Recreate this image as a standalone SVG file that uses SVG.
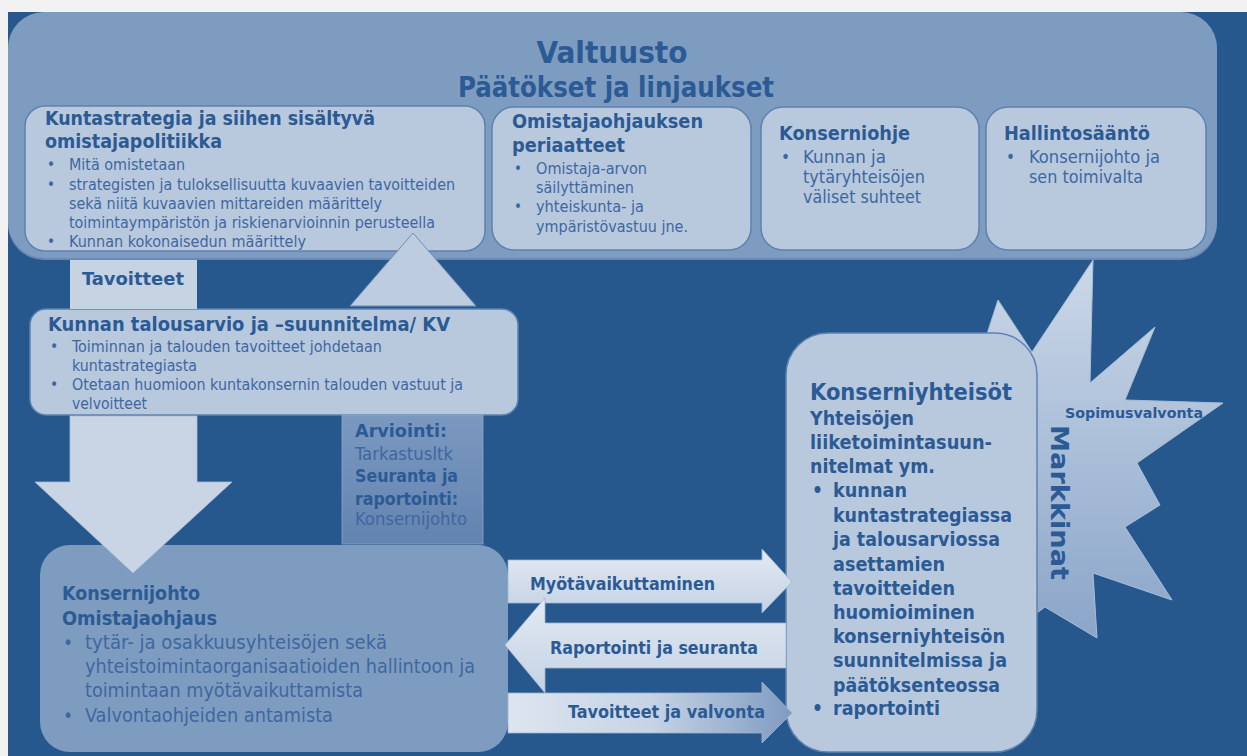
<svg xmlns="http://www.w3.org/2000/svg" width="1247" height="756" viewBox="0 0 1247 756">
<defs>
<style>
text{font-family:"DejaVu Sans Condensed","DejaVu Sans",sans-serif;fill:#3E67A1;}
.b{font-weight:bold;fill:#2B5A95;}
.w{font-family:"DejaVu Sans",sans-serif;}
.lb{fill:#B9C9DD;stroke:#5E82B0;stroke-width:1.5;}
.mb{fill:#7E9CC0;}
.s15{font-size:15px;}
.s17{font-size:17px;}
.s19{font-size:19px;}
.arr{stroke:#9FB4D0;stroke-width:0.8;}
</style>
<linearGradient id="gA" x1="0" y1="0" x2="0" y2="1">
<stop offset="0" stop-color="#E3EAF3"/><stop offset="1" stop-color="#C4D2E4"/>
</linearGradient>
<linearGradient id="gA3" x1="0" y1="0" x2="1" y2="0">
<stop offset="0" stop-color="#DDE5EF"/><stop offset="0.5" stop-color="#C7D4E5"/><stop offset="1" stop-color="#7E9BC1"/>
</linearGradient>
<linearGradient id="gStar" x1="0" y1="0" x2="0" y2="1">
<stop offset="0" stop-color="#CBD8E8"/><stop offset="1" stop-color="#8AA5C9"/>
</linearGradient>
<linearGradient id="gArv" x1="0" y1="0" x2="0" y2="1">
<stop offset="0" stop-color="#7B99C0"/><stop offset="1" stop-color="#6383B0"/>
</linearGradient>
</defs>

<rect x="0" y="0" width="1247" height="756" fill="#F2F2F2"/>
<rect x="8" y="12" width="1239" height="744" fill="#26588E"/>

<g id="valtuusto">
<rect x="8" y="14" width="1209" height="246" rx="36" fill="#6A8AB4"/>
<rect class="mb" x="8" y="12" width="1209" height="246" rx="36"/>
<text class="b" x="612" y="63" font-size="31" text-anchor="middle" textLength="151" lengthAdjust="spacingAndGlyphs">Valtuusto</text>
<text class="b" x="616" y="97" font-size="28" text-anchor="middle" textLength="316" lengthAdjust="spacingAndGlyphs">Päätökset ja linjaukset</text>
</g>

<g id="kuntastrategia">
<rect class="lb" x="25" y="106" width="460" height="145" rx="20"/>
<text class="b s19" x="45" y="125" textLength="330" lengthAdjust="spacingAndGlyphs">Kuntastrategia ja siihen sisältyvä</text>
<text class="b s19" x="45" y="148" textLength="177" lengthAdjust="spacingAndGlyphs">omistajapolitiikka</text>
<text class="s15" x="47" y="170">•</text>
<text class="s15" x="47" y="190">•</text>
<text class="s15" x="47" y="247">•</text>
<text class="s15" x="69" y="170" textLength="116" lengthAdjust="spacingAndGlyphs">Mitä omistetaan</text>
<text class="s15" x="69" y="190" textLength="386" lengthAdjust="spacingAndGlyphs">strategisten ja tuloksellisuutta kuvaavien tavoitteiden</text>
<text class="s15" x="69" y="209" textLength="313" lengthAdjust="spacingAndGlyphs">sekä niitä kuvaavien mittareiden määrittely</text>
<text class="s15" x="69" y="228" textLength="366" lengthAdjust="spacingAndGlyphs">toimintaympäristön ja riskienarvioinnin perusteella</text>
<text class="s15" x="69" y="247" textLength="237" lengthAdjust="spacingAndGlyphs">Kunnan kokonaisedun määrittely</text>
</g>

<g id="omistajaohjaus">
<rect class="lb" x="492" y="107" width="259" height="143" rx="22"/>
<text class="b s19" x="512" y="128" textLength="191" lengthAdjust="spacingAndGlyphs">Omistajaohjauksen</text>
<text class="b s19" x="512" y="152" textLength="113" lengthAdjust="spacingAndGlyphs">periaatteet</text>
<text class="s15" x="514" y="174">•</text>
<text class="s15" x="514" y="212">•</text>
<text class="s15" x="536" y="174" textLength="111" lengthAdjust="spacingAndGlyphs">Omistaja-arvon</text>
<text class="s15" x="536" y="193" textLength="98" lengthAdjust="spacingAndGlyphs">säilyttäminen</text>
<text class="s15" x="536" y="212" textLength="108" lengthAdjust="spacingAndGlyphs">yhteiskunta- ja</text>
<text class="s15" x="536" y="232" textLength="152" lengthAdjust="spacingAndGlyphs">ympäristövastuu jne.</text>
</g>

<g id="konserniohje">
<rect class="lb" x="761" y="107" width="218" height="143" rx="22"/>
<text class="b s19" x="779" y="140" textLength="131" lengthAdjust="spacingAndGlyphs">Konserniohje</text>
<text class="s17" x="781" y="163">•</text>
<text class="s17" x="803" y="163" textLength="83" lengthAdjust="spacingAndGlyphs">Kunnan ja</text>
<text class="s17" x="803" y="183" textLength="122" lengthAdjust="spacingAndGlyphs">tytäryhteisöjen</text>
<text class="s17" x="803" y="203" textLength="118" lengthAdjust="spacingAndGlyphs">väliset suhteet</text>
</g>

<g id="hallintosaanto">
<rect class="lb" x="986" y="107" width="220" height="143" rx="22"/>
<text class="b s19" x="1004" y="140" textLength="146" lengthAdjust="spacingAndGlyphs">Hallintosääntö</text>
<text class="s17" x="1006" y="163">•</text>
<text class="s17" x="1029" y="163" textLength="131" lengthAdjust="spacingAndGlyphs">Konsernijohto ja</text>
<text class="s17" x="1029" y="183" textLength="114" lengthAdjust="spacingAndGlyphs">sen toimivalta</text>
</g>

<g id="talousarvio">
<rect class="lb" x="30" y="309" width="488" height="106" rx="16"/>
<text class="b s19" x="48" y="331" textLength="402" lengthAdjust="spacingAndGlyphs">Kunnan talousarvio ja –suunnitelma/ KV</text>
<text font-size="15.5" x="50" y="352">•</text>
<text font-size="15.5" x="50" y="390">•</text>
<text font-size="15.5" x="72" y="352" textLength="310" lengthAdjust="spacingAndGlyphs">Toiminnan ja talouden tavoitteet johdetaan</text>
<text font-size="15.5" x="72" y="371" textLength="125" lengthAdjust="spacingAndGlyphs">kuntastrategiasta</text>
<text font-size="15.5" x="72" y="390" textLength="391" lengthAdjust="spacingAndGlyphs">Otetaan huomioon kuntakonsernin talouden vastuut ja</text>
<text font-size="15.5" x="72" y="409" textLength="75" lengthAdjust="spacingAndGlyphs">velvoitteet</text>
</g>

<g id="konsernijohto">
<rect class="mb" x="40" y="545" width="468" height="207" rx="30"/>
<text class="b s19" x="62" y="600" textLength="138" lengthAdjust="spacingAndGlyphs">Konsernijohto</text>
<text class="b s19" x="62" y="625" textLength="155" lengthAdjust="spacingAndGlyphs">Omistajaohjaus</text>
<text font-size="19" x="63" y="649">•</text>
<text font-size="19" x="63" y="722">•</text>
<text font-size="19" x="85" y="649" textLength="302" lengthAdjust="spacingAndGlyphs">tytär- ja osakkuusyhteisöjen sekä</text>
<text font-size="19" x="85" y="673" textLength="390" lengthAdjust="spacingAndGlyphs">yhteistoimintaorganisaatioiden hallintoon ja</text>
<text font-size="19" x="85" y="697" textLength="278" lengthAdjust="spacingAndGlyphs">toimintaan myötävaikuttamista</text>
<text font-size="19" x="85" y="722" textLength="248" lengthAdjust="spacingAndGlyphs">Valvontaohjeiden antamista</text>
</g>

<g id="markkinat">
<polygon points="998,300 1032,352 1093,260 1090,383 1155,327 1125,400 1223,403 1137,463 1160,505 1125,527 1172,600 1093,573 1097,638 1045,607 1000,640 960,450 985,340" fill="url(#gStar)" stroke="#A9BDD7" stroke-width="1"/>
<text class="b" x="1065" y="418" font-size="14" textLength="138" lengthAdjust="spacingAndGlyphs">Sopimusvalvonta</text>
<text class="b w" transform="translate(1051,425) rotate(90)" font-size="25" textLength="155" lengthAdjust="spacingAndGlyphs">Markkinat</text>
</g>

<g id="konserniyhteisot">
<rect class="lb" x="786" y="333" width="251" height="419" rx="42"/>
<text class="b" x="810" y="400" font-size="23" textLength="202" lengthAdjust="spacingAndGlyphs">Konserniyhteisöt</text>
<text class="b s19" x="810" y="425" textLength="104" lengthAdjust="spacingAndGlyphs">Yhteisöjen</text>
<text class="b s19" x="810" y="449" textLength="182" lengthAdjust="spacingAndGlyphs">liiketoimintasuun-</text>
<text class="b s19" x="810" y="473" textLength="125" lengthAdjust="spacingAndGlyphs">nitelmat ym.</text>
<text class="b s19" x="812" y="497">•</text>
<text class="b s19" x="812" y="715">•</text>
<text class="b s19" x="833" y="497" textLength="74" lengthAdjust="spacingAndGlyphs">kunnan</text>
<text class="b s19" x="833" y="522" textLength="179" lengthAdjust="spacingAndGlyphs">kuntastrategiassa</text>
<text class="b s19" x="833" y="546" textLength="167" lengthAdjust="spacingAndGlyphs">ja talousarviossa</text>
<text class="b s19" x="833" y="571" textLength="112" lengthAdjust="spacingAndGlyphs">asettamien</text>
<text class="b s19" x="833" y="595" textLength="122" lengthAdjust="spacingAndGlyphs">tavoitteiden</text>
<text class="b s19" x="833" y="619" textLength="142" lengthAdjust="spacingAndGlyphs">huomioiminen</text>
<text class="b s19" x="833" y="643" textLength="172" lengthAdjust="spacingAndGlyphs">konserniyhteisön</text>
<text class="b s19" x="833" y="667" textLength="174" lengthAdjust="spacingAndGlyphs">suunnitelmissa ja</text>
<text class="b s19" x="833" y="692" textLength="167" lengthAdjust="spacingAndGlyphs">päätöksenteossa</text>
<text class="b s19" x="833" y="715" textLength="107" lengthAdjust="spacingAndGlyphs">raportointi</text>
</g>

<g id="connectors">
<rect x="70" y="260" width="127" height="49" fill="#C6D3E3"/>
<text class="b" font-size="18" x="82" y="285" textLength="102" lengthAdjust="spacingAndGlyphs">Tavoitteet</text>
<polygon points="70,416 197,416 197,482 232,482 133,573 35,482 70,482" fill="#C9D5E4" stroke="#A9BDD7" stroke-width="0.8"/>
<polygon points="350,306 413,233 476,306" fill="#BDCCDF" stroke="#6F90BA" stroke-width="1"/>
<rect x="342" y="415" width="141" height="129" fill="url(#gArv)" stroke="#8CA6C8" stroke-width="0.8"/>
<text class="b" font-size="18" x="355" y="437" textLength="92" lengthAdjust="spacingAndGlyphs">Arviointi:</text>
<text font-size="17" x="355" y="460" textLength="98" lengthAdjust="spacingAndGlyphs">Tarkastusltk</text>
<text class="b" font-size="18" x="355" y="482" textLength="103" lengthAdjust="spacingAndGlyphs">Seuranta ja</text>
<text class="b" font-size="18" x="355" y="505" textLength="103" lengthAdjust="spacingAndGlyphs">raportointi:</text>
<text font-size="17" x="355" y="525" textLength="112" lengthAdjust="spacingAndGlyphs" fill="#466DA6">Konsernijohto</text>
<polygon class="arr" points="508,560 762,560 762,549 792,582 762,613 762,603 508,603" fill="url(#gA)"/>
<text class="b" x="530" y="590" font-size="18" textLength="185" lengthAdjust="spacingAndGlyphs">Myötävaikuttaminen</text>
<polygon class="arr" points="786,623 545,623 545,598 505,645 545,693 545,668 786,668" fill="url(#gA)"/>
<text class="b" x="550" y="654" font-size="18" textLength="208" lengthAdjust="spacingAndGlyphs">Raportointi ja seuranta</text>
<polygon class="arr" points="508,693 762,693 762,682 792,713 762,743 762,733 508,733" fill="url(#gA3)"/>
<text class="b" x="568" y="718" font-size="18" textLength="197" lengthAdjust="spacingAndGlyphs">Tavoitteet ja valvonta</text>
</g>
</svg>
